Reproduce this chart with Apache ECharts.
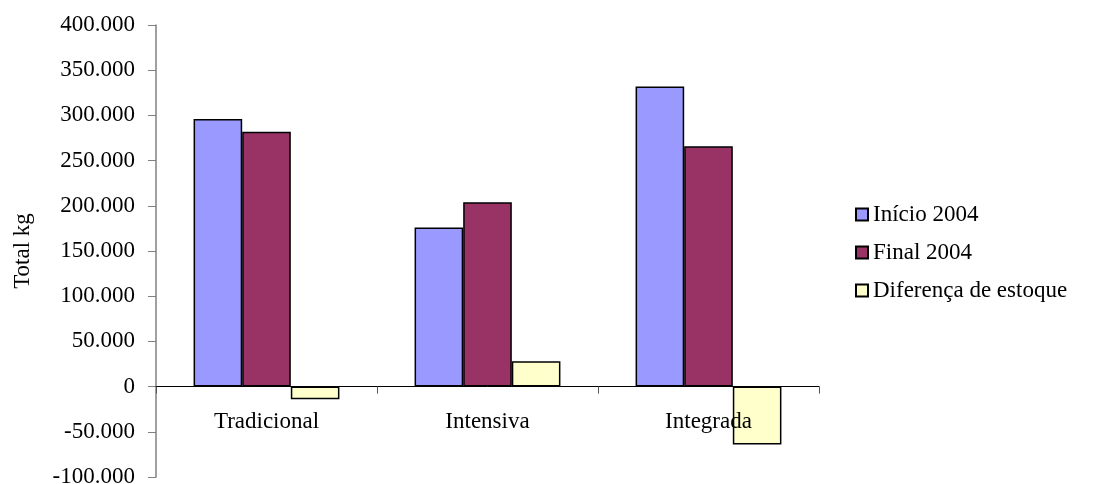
<!DOCTYPE html>
<html>
<head>
<meta charset="utf-8">
<title>Total kg</title>
<script src="https://cdn.jsdelivr.net/npm/echarts@6/dist/echarts.min.js"></script>
<style>
  html, body { margin: 0; padding: 0; background: #ffffff; }
  #chart { width: 1101px; height: 484px; }
</style>
</head>
<body>
<div id="chart"></div>
<script>
// Stock totals per production system
const categories = ['Tradicional', 'Intensiva', 'Integrada'];
const inicio2004 = [296000, 176000, 332000];
const final2004 = [282000, 204000, 266000];
const diferenca = [-14000, 28000, -64000];
const seriesNames = ['Início 2004', 'Final 2004', 'Diferença de estoque'];
const seriesColors = ['#9999FF', '#993366', '#FFFFCC'];

const FONT = '"Liberation Serif", "Times New Roman", serif';
const Y_MIN = -100000;
const Y_MAX = 400000;
const GRID_TOP = 25;
const GRID_BOTTOM = 7;
const CHART_H = 484;

// thousands separated by dots: 250000 -> "250.000"
function fmt(v) {
  const s = String(Math.abs(v)).replace(/\B(?=(\d{3})+(?!\d))/g, '.');
  return (v < 0 ? '-' : '') + s;
}

// the category axis sits on the zero line: shift it up from the grid bottom
const plotH = CHART_H - GRID_TOP - GRID_BOTTOM;
const zeroOffset = -plotH * (0 - Y_MIN) / (Y_MAX - Y_MIN);

function barSeries(name, data, color) {
  return {
    name: name,
    type: 'bar',
    data: data,
    barGap: 0,
    barCategoryGap: '34%',
    itemStyle: { color: color, borderColor: '#000000', borderWidth: 1.5 },
    emphasis: { disabled: true }
  };
}

const chart = echarts.init(document.getElementById('chart'), null, { renderer: 'canvas' });
chart.setOption({
  animation: false,
  backgroundColor: '#ffffff',
  textStyle: { fontFamily: FONT },
  grid: { left: 156, right: 282, top: GRID_TOP, bottom: GRID_BOTTOM, containLabel: false, outerBoundsMode: 'none' },
  legend: {
    orient: 'vertical',
    left: 850,
    top: 198,
    itemWidth: 12,
    itemHeight: 12,
    itemGap: 15,
    icon: 'rect',
    selectedMode: false,
    textStyle: { fontFamily: FONT, fontSize: 23, color: '#000000' },
    data: seriesNames
  },
  xAxis: {
    type: 'category',
    data: categories,
    position: 'bottom',
    offset: zeroOffset,
    z: 5,
    axisLine: { onZero: false, lineStyle: { color: '#000000', width: 1 } },
    axisTick: { show: true, length: 7, lineStyle: { color: '#555555' } },
    axisLabel: { fontFamily: FONT, fontSize: 23, color: '#000000', margin: 24 },
    splitLine: { show: false }
  },
  yAxis: {
    type: 'value',
    min: Y_MIN,
    max: Y_MAX,
    interval: 50000,
    name: 'Total kg',
    nameLocation: 'middle',
    nameGap: 122,
    nameTextStyle: { fontFamily: FONT, fontSize: 23, color: '#000000' },
    axisLine: { show: true, lineStyle: { color: '#808080', width: 1.5 } },
    axisTick: { show: true, length: 8, lineStyle: { color: '#808080' } },
    axisLabel: { fontFamily: FONT, fontSize: 23, color: '#000000', margin: 21, formatter: fmt },
    splitLine: { show: false }
  },
  series: [
    barSeries(seriesNames[0], inicio2004, seriesColors[0]),
    barSeries(seriesNames[1], final2004, seriesColors[1]),
    barSeries(seriesNames[2], diferenca, seriesColors[2])
  ]
});
</script>
</body>
</html>
